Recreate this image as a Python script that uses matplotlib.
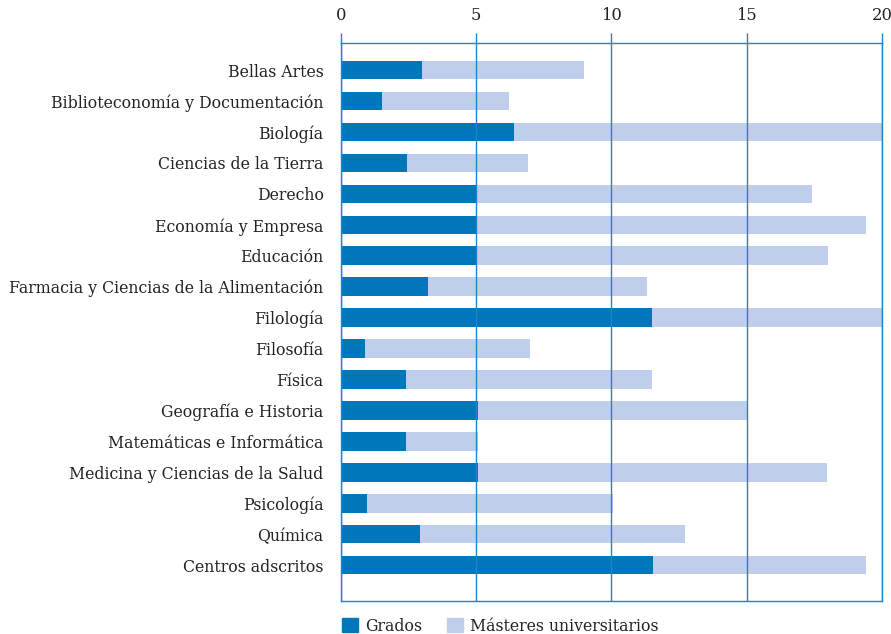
import matplotlib.pyplot as plt
import numpy as np
from matplotlib.patches import Patch

# Data
categories = [
    "Bellas Artes",
    "Biblioteconomía y Documentación",
    "Biología",
    "Ciencias de la Tierra",
    "Derecho",
    "Economía y Empresa",
    "Educación",
    "Farmacia y Ciencias de la Alimentación",
    "Filología",
    "Filosofía",
    "Física",
    "Geografía e Historia",
    "Matemáticas e Informática",
    "Medicina y Ciencias de la Salud",
    "Psicología",
    "Química",
    "Centros adscritos",
]
grados = [3.0, 1.5, 6.4, 2.45, 5.0, 5.0, 5.0, 3.2, 11.5, 0.9, 2.42, 5.05, 2.42, 5.05, 0.98, 2.93, 11.55]
totales = [9.0, 6.2, 20.1, 6.9, 17.4, 19.4, 18.0, 11.3, 20.1, 7.0, 11.5, 15.05, 5.05, 17.95, 10.06, 12.73, 19.4]
masteres = [t - g for t, g in zip(totales, grados)]

# Colours
c_grados = "#0077bb"
c_masteres = "#bfcfeb"
c_axis = "#1f84cc"
c_text = "#222222"

plt.rcParams["font.family"] = "DejaVu Serif"
fs = 11.3

fig = plt.figure(figsize=(8.91, 6.34), dpi=100)
ax = fig.add_axes([0.3827, 0.052, 0.6072, 0.880])

y = np.arange(len(categories))
ax.barh(y, grados, height=0.6, color=c_grados, zorder=2)
ax.barh(y, masteres, left=grados, height=0.6, color=c_masteres, zorder=2)

ax.set_xlim(0, 20)
ax.set_ylim(17.16, -0.873)

# Axis at top
ax.xaxis.tick_top()
ax.set_xticks([0, 5, 10, 15, 20])
ax.tick_params(axis="x", colors=c_axis, length=7, width=1, labelcolor=c_text,
               labelsize=fs + 0.5, pad=6.5)
ax.set_yticks(y)
ax.set_yticklabels(categories)
ax.tick_params(axis="y", length=0, labelsize=fs, labelcolor=c_text, pad=12.5)

ax.grid(axis="x", color=c_axis, linewidth=1, zorder=3)
ax.set_axisbelow(False)
for s in ax.spines.values():
    s.set_color(c_axis)
    s.set_linewidth(1)

# Legend
handles = [Patch(color=c_grados, label="Grados"),
           Patch(color=c_masteres, label="Másteres universitarios")]
leg = fig.legend(handles=handles, loc="center left", bbox_to_anchor=(0.3838, 0.0126),
                 ncol=2, frameon=False, fontsize=fs, handlelength=1.0,
                 handleheight=1.0, handletextpad=0.45, columnspacing=1.6,
                 borderaxespad=0, borderpad=0)
for t in leg.get_texts():
    t.set_color(c_text)

plt.savefig("out.png", dpi=100)
